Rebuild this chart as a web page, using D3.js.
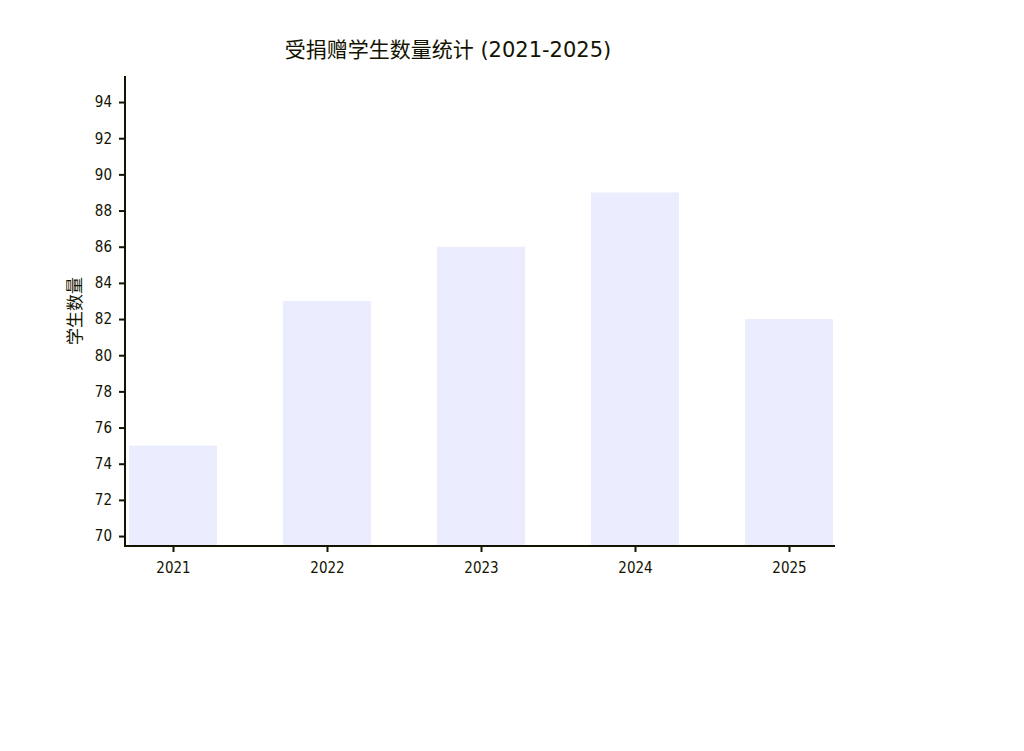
<!DOCTYPE html>
<html>
<head>
<meta charset="utf-8">
<script src="https://cdn.jsdelivr.net/npm/d3@7"></script>
<style>
  body { margin: 0; background: #fff; }
  text { font-family: "DejaVu Sans", "Noto Sans CJK SC", sans-serif; fill: #131300; }
  .tick text { font-family: "Liberation Sans Narrow", "DejaVu Sans Condensed", sans-serif; }
</style>
</head>
<body>
<div id="plot"></div>
<script>
// data
const years = ["2021", "2022", "2023", "2024", "2025"];
const students = [75, 83, 86, 89, 82];
const yTicks = [70, 72, 74, 76, 78, 80, 82, 84, 86, 88, 90, 92, 94];

const width = 1024,
  height = 751;

const svg = d3.select("#plot").append("svg").attr("width", width).attr("height", height);

// scales
const x = d3.scalePoint().domain(years).range([173, 789]);
const barW = x.step() * 0.571;
const y = d3.scaleLinear().domain([69.45, 95.44]).range([546, 76]);

// bars
svg.append("g").selectAll("rect").data(students).join("rect")
  .attr("x", (d, i) => x(years[i]) - barW / 2)
  .attr("y", d => y(d))
  .attr("width", barW)
  .attr("height", d => y(69.45) - y(d))
  .attr("fill", "#ECECFF");

// y axis
const yAxis = svg.append("g").attr("transform", "translate(125,0)")
  .call(d3.axisLeft(y).tickValues(yTicks).tickSize(6).tickPadding(7));
yAxis.select(".domain").attr("d", `M0,${y(95.44)}V${y(69.45)}`).attr("stroke", "#131300").attr("stroke-width", 2);
yAxis.selectAll(".tick line").attr("stroke", "#131300").attr("stroke-width", 2);
yAxis.selectAll(".tick text").attr("font-size", 15).attr("fill", "#131300");

// x axis
const xAxis = svg.append("g").attr("transform", "translate(0,546)")
  .call(d3.axisBottom(x).tickSize(6).tickPadding(10));
xAxis.select(".domain").attr("d", "M124,0H835").attr("stroke", "#131300").attr("stroke-width", 2);
xAxis.selectAll(".tick line").attr("stroke", "#131300").attr("stroke-width", 2);
xAxis.selectAll(".tick text").attr("font-size", 15).attr("fill", "#131300");

// titles
svg.append("text").attr("x", 448).attr("y", 51).attr("text-anchor", "middle")
  .attr("dominant-baseline", "middle").attr("font-size", 21)
  .text("受捐赠学生数量统计 (2021-2025)");

svg.append("text").attr("transform", "translate(76,311) rotate(-90)")
  .attr("text-anchor", "middle").attr("dominant-baseline", "middle").attr("font-size", 17)
  .text("学生数量");
</script>
</body>
</html>
